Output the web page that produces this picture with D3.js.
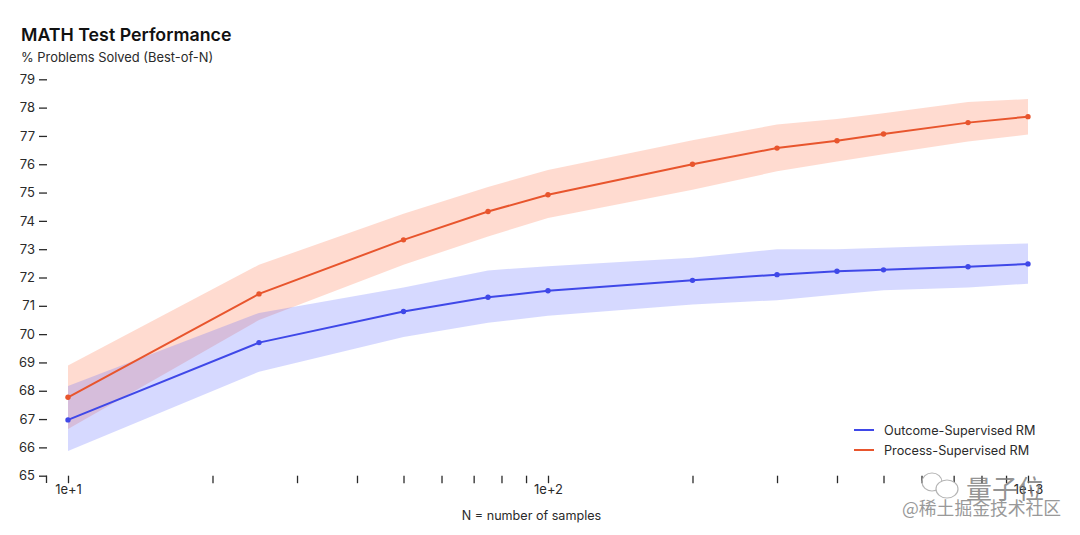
<!DOCTYPE html>
<html><head><meta charset="utf-8">
<script src="https://cdn.jsdelivr.net/npm/d3@7"></script>
<style>html,body{margin:0;background:#fff}svg{display:block}text{font-family:"Inter","Noto Sans CJK SC",sans-serif}</style>
</head><body><svg id="c" width="1080" height="535"></svg>
<script>
const samples=[10,25,50,75,100,200,300,400,500,750,1000];
const outcomeMean=[66.97,69.7,70.8,71.3,71.53,71.9,72.1,72.22,72.27,72.38,72.48];
const outcomeUpper=[68.17,70.75,71.65,72.25,72.4,72.7,73.0,73.0,73.05,73.15,73.2];
const outcomeLower=[65.87,68.67,69.9,70.4,70.65,71.05,71.2,71.4,71.55,71.65,71.78];
const processMean=[67.77,71.42,73.33,74.33,74.92,76.0,76.57,76.83,77.07,77.47,77.68];
const processUpper=[68.89,72.45,74.25,75.2,75.8,76.85,77.4,77.6,77.8,78.2,78.3];
const processLower=[66.65,70.5,72.45,73.45,74.1,75.1,75.75,76.1,76.35,76.8,77.05];
const yTicks=d3.range(65,80);
const xTicks=[10,20,30,40,50,60,70,80,90,100,200,300,400,500,600,700,800,900,1000];
const xLabels={10:"1e+1",100:"1e+2",1000:"1e+3"};
const seriesNames=["Outcome-Supervised RM","Process-Supervised RM"];
const colors=["#3f48e8","#e8552d"];
const bandFill=["#5560ff","#ff6f42"];

const svg=d3.select("#c");
const x=d3.scaleLog().domain([10,1000]).range([68,1028]);
const y=d3.scaleLinear().domain([65,79]).range([475.7,79.3]);
const ink="#2a2a2a";

const sets=[
 {mean:processMean,up:processUpper,lo:processLower,i:1},
 {mean:outcomeMean,up:outcomeUpper,lo:outcomeLower,i:0}
];
const area=s=>d3.area().x((d,k)=>x(samples[k])).y0((d,k)=>y(s.lo[k])).y1((d,k)=>y(s.up[k]))(samples);
const line=s=>d3.line().x((d,k)=>x(samples[k])).y((d,k)=>y(s.mean[k]))(samples);

svg.selectAll("path.band").data(sets).join("path").attr("class","band")
 .attr("d",area).attr("fill",d=>bandFill[d.i]).attr("fill-opacity",d=>d.i===0?0.24:0.25);
svg.selectAll("path.mean").data(sets).join("path").attr("class","mean")
 .attr("d",line).attr("fill","none").attr("stroke",d=>colors[d.i]).attr("stroke-width",2);
sets.forEach(s=>{
 svg.append("g").selectAll("circle").data(samples).join("circle")
  .attr("cx",d=>x(d)).attr("cy",(d,k)=>y(s.mean[k])).attr("r",2.7).attr("fill",colors[s.i]);
});

// y axis
const yAxis=d3.axisLeft(y).tickValues(yTicks).tickSize(8).tickPadding(4).tickFormat(d3.format("d"));
const gy=svg.append("g").attr("transform","translate(47,0)").call(yAxis);
gy.select(".domain").remove();
gy.selectAll("line").attr("stroke",ink).attr("stroke-width",1.3);
gy.selectAll("text").attr("font-size",13).attr("fill",ink);

// x axis
const xAxis=d3.axisBottom(x).tickValues(xTicks).tickSize(7.5).tickPadding(2).tickFormat(d=>xLabels[d]||"");
const gx=svg.append("g").attr("transform","translate(0,475.7)").call(xAxis);
gx.select(".domain").remove();
gx.selectAll("line").attr("stroke",ink).attr("stroke-width",1.3);
gx.selectAll("text").attr("font-size",13).attr("fill",ink);
// corner of the axis frame
svg.append("path").attr("d",`M46.5,475.7V483`).attr("stroke",ink).attr("stroke-width",1.3).attr("fill","none");

svg.append("text").attr("x",21).attr("y",41).attr("font-size",17.8).attr("font-weight",600).attr("fill","#111").text("MATH Test Performance");
svg.append("text").attr("x",21).attr("y",62).attr("font-size",12.9).attr("fill",ink).text("% Problems Solved (Best-of-N)");
svg.append("text").attr("x",531.5).attr("y",520).attr("text-anchor","middle").attr("font-size",12.6).attr("fill",ink).text("N = number of samples");

// legend
const leg=svg.append("g").selectAll("g").data(seriesNames).join("g").attr("transform",(d,i)=>`translate(854,${430+i*20})`);
leg.append("line").attr("x1",0).attr("x2",20).attr("stroke",(d,i)=>colors[i]).attr("stroke-width",2);
leg.append("text").attr("x",30).attr("y",4.5).attr("font-size",12.7).attr("fill",ink).text(d=>d);

// watermark
const ic=svg.append("g").attr("fill","none").attr("stroke","#b5b5b5").attr("stroke-width",1.2);
ic.append("ellipse").attr("cx",932).attr("cy",482).attr("rx",10).attr("ry",9);
ic.append("ellipse").attr("cx",947).attr("cy",489).attr("rx",11).attr("ry",9).attr("fill","#fff");
const wm=svg.append("g");
wm.append("text").attr("x",966).attr("y",499).attr("font-size",26).attr("fill","#777").attr("fill-opacity",.8).style("font-family","Noto Sans CJK SC").text("量子位");
wm.append("text").attr("x",902).attr("y",515).attr("font-size",17.8).attr("fill","#999").style("font-family","Noto Sans CJK SC").text("@稀土掘金技术社区");
</script></body></html>
